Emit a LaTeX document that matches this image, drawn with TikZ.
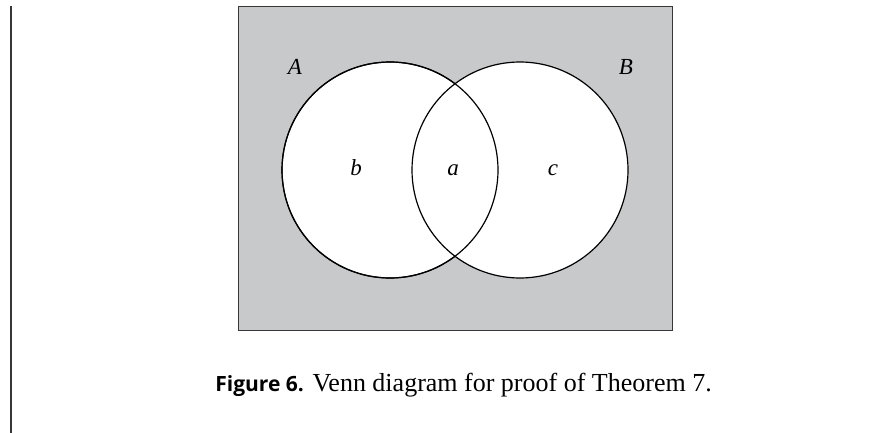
\documentclass[tikz,border=0pt]{standalone}
\usepackage{fontspec}
\setmainfont{Liberation Serif}
\newfontfamily\capsans{Open Sans}
\usetikzlibrary{positioning}
\definecolor{venngray}{RGB}{200,201,203}
\definecolor{framegray}{RGB}{55,55,55}

\begin{document}
\begin{tikzpicture}[x=1pt, y=-1pt,
  setcircle/.style={circle, draw=black, line width=1.2pt, minimum size=216pt, inner sep=0pt},
  setlabel/.style={font=\fontsize{23}{23}\selectfont\itshape, inner sep=0pt, anchor=base}]
\useasboundingbox (0,0) rectangle (893,433);
% margin rule
\coordinate (ruletop) at (11,6);
\coordinate (rulebot) at (11,433);
\draw[line width=1.4pt, color=framegray] (ruletop) -- (rulebot);
% universe
\node[draw=framegray, fill=venngray, line width=1pt, minimum width=434pt, minimum height=323pt, inner sep=0pt] (U) at (455,168.5) {};
% the two sets
\node[setcircle, fill=white] (Aset) at (390,170) {};
\node[setcircle, fill=white] (Bset) at (520,170) {};
\node[setcircle] at (Aset) {};
% labels
\node[setlabel] (labA) at (295,75) {A};
\node[setlabel] (labB) at (626,75) {B};
\node[setlabel] (regb) at (356,175) {b};
\node[setlabel] (rega) at (453,175) {a};
\node[setlabel] (regc) at (553,175) {c};
% caption
\node[anchor=base east, inner sep=0pt, font=\fontsize{26}{26}\selectfont] (cap) at (712,391)
  {{\capsans\fontsize{21}{21}\selectfont\bfseries Figure 6.} Venn diagram for proof of Theorem 7.};
\end{tikzpicture}
\end{document}
